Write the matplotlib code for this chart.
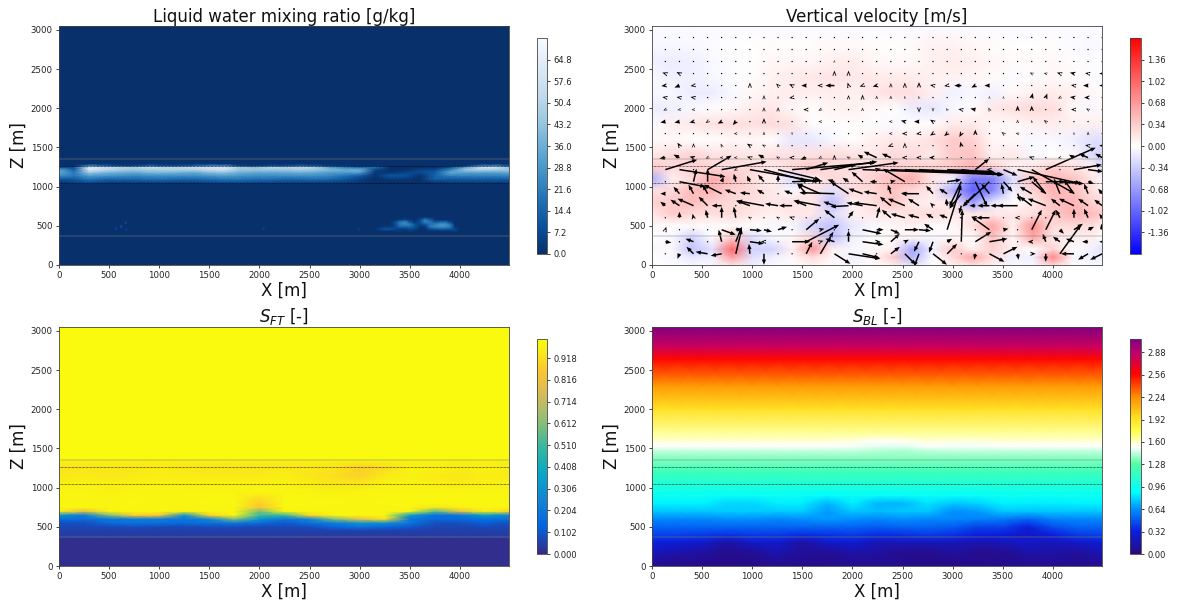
import numpy as np
import matplotlib
matplotlib.use("Agg")
import matplotlib.pyplot as plt
from matplotlib.colors import LinearSegmentedColormap, Normalize
from matplotlib.cm import ScalarMappable

# ---------- layer marker heights ----------
LINE_SOLID = [1350, 365]
LINE_DOTTED = [1260, 1045]

# ---------- liquid water: cloud layer ----------
QL_X = [0,150,300,450,600,750,900,1050,1200,1350,1500,1650,1800,1950,2100,2250,2400,2550,2700,2850,3000,3150,3300,3450,3600,3750,3900,4050,4200,4350,4490]
QL_Z = [1030,1060,1100,1140,1180,1215,1250,1270,1290]
QL = [
 [0]*31,
 [2,6,9,6,6,6,7,7,6,6,8,9,10,8,8,7,7,7,6,5,2,0,0,0,0,3,5,5,5,5,5],
 [12,12,20,16,16,16,18,18,16,16,18,20,20,18,18,16,16,18,16,12,5,0,3,3,0,14,12,13,13,13,13],
 [26,20,30,28,26,24,26,26,26,26,28,30,28,26,26,26,26,26,24,18,12,1,11,10,0,14,22,22,22,22,23],
 [34,20,44,38,36,34,38,38,36,34,40,42,36,34,34,34,36,34,30,30,30,3,2,6,8,12,34,32,32,32,34],
 [34,14,60,52,46,44,46,48,48,48,54,56,44,44,44,44,46,44,40,36,38,6,0,0,6,8,24,44,48,46,44],
 [8,8,64,56,52,48,57,52,52,57,60,62,47,42,52,50,54,50,32,22,16,18,0,0,0,0,8,32,57,60,42],
 [0,0,25,15,5,5,15,8,8,15,25,25,5,3,8,8,15,10,3,2,0,0,0,0,0,0,0,0,20,25,10],
 [0]*31,
]
# ---------- liquid water: low cumulus ----------
CU_X = [3150,3200,3250,3300,3350,3400,3450,3500,3550,3600,3650,3700,3750,3800,3850,3900,3950,4000]
CU_Z = [400,430,460,490,520,550,580,610]
CU = [
 [0]*18,
 [0,0,0,0,0,3,0,2,0,0,0,0,0,0,0,0,3,0],
 [0,5,10,10,7,3,3,7,5,0,0,7,10,12,12,10,7,0],
 [0,1,3,3,6,15,15,15,10,2,2,20,24,26,26,22,2,0],
 [0,0,0,0,5,20,24,22,10,5,10,18,22,28,28,20,0,0],
 [0,0,0,0,8,20,26,12,3,8,22,20,12,16,18,7,0,0],
 [0,0,0,0,0,2,6,2,0,6,22,14,2,0,0,0,0,0],
 [0]*18,
]
SPECK_X = [620,570,665,670,2040,2990]
SPECK_Z = [490,465,540,455,465,455]
SPECK_V = [8,5,6,4,5,4]
QL_TICKS = [0,7.2,14.4,21.6,28.8,36.0,43.2,50.4,57.6,64.8]

# ---------- vertical velocity ----------
W_X = [0,200,400,600,800,1000,1200,1400,1600,1800,2000,2200,2400,2600,2800,3000,3200,3400,3600,3800,4000,4200,4400,4490]
W_Z = [0,100,200,350,500,650,800,950,1100,1250,1400,1600,1800,2000,2200,2400,2600,2800,3050]
W = [
 [0,-.02,-.05,-.05,.2,-.1,-.05,.02,.1,.02,-.05,.02,.1,-.2,0,.1,.2,.1,-.05,-.05,.3,-.02,-.05,-.05],
 [0,-.05,-.15,-.1,.65,-.2,-.1,.05,.25,.05,-.1,.05,.35,-.5,0,.25,.6,.2,-.1,-.1,.8,-.05,-.1,-.1],
 [-.05,.05,-.4,-.2,1.0,-.3,-.3,.1,.7,.1,-.05,.05,.1,-.6,-.1,.35,.1,.3,.1,0,.3,0,-.1,-.2],
 [0,-.05,-.3,0,.35,-.2,-.05,.05,.25,-.4,-.1,0,.05,.05,-.05,.05,0,.4,.05,.6,.15,.1,.1,0],
 [.05,0,.05,0,.05,0,-.05,-.05,-.3,-.4,-.15,-.05,.05,.1,0,.05,.2,.6,.1,.75,.25,.25,.2,.1],
 [.15,.35,.25,.2,.25,.15,.1,.15,.15,-.25,.1,.15,.15,.2,.25,.15,.15,.15,.15,.2,.35,.5,.45,.35],
 [.3,.35,.45,.3,.25,.2,.15,.2,.15,-.45,.1,.2,.4,.15,.1,.15,-.65,-.15,0,.15,.4,.5,.3,.25],
 [.2,.25,.45,.5,.3,.25,.15,-.05,.2,-.2,.25,.25,.4,.25,.15,-.55,-1.05,-.8,-.1,.3,.5,.45,.2,.1],
 [-.55,.1,.25,.55,.4,.2,.1,-.25,.15,.25,.2,.3,.45,.55,.15,-.1,-.9,-.85,-.2,.4,.5,.4,.15,.05],
 [.35,.25,.3,.25,.2,.25,.15,.25,.35,.25,.2,.25,.3,.3,.3,.35,.5,.3,.1,.15,.3,.2,.1,-.25],
 [.15,.25,.3,.2,.2,.15,.2,.2,.2,.25,.2,.15,.25,.25,.15,.35,.4,.1,.15,-.05,0,.05,-.25,-.3],
 [.05,.05,0,0,.05,.05,0,-.15,-.15,-.05,0,.1,.15,.12,.2,.35,.3,.05,.05,-.05,-.05,-.1,-.2,-.2],
 [-.02,.1,.15,.2,.22,.2,.25,.18,.02,.02,.02,-.02,-.03,0,.02,.12,.14,.05,.05,.1,.12,.1,.1,.08],
 [-.12,-.1,-.05,0,.05,.12,.15,.05,.02,.08,.1,.05,0,-.12,-.15,-.05,.02,.15,.2,.25,.22,.05,-.05,.05],
 [-.05,-.05,-.12,-.12,-.05,.05,.1,.12,.1,.12,.1,.15,.22,.2,.1,-.08,-.05,-.08,.03,.1,.12,.1,.05,.05],
 [-.05,-.1,-.1,-.05,-.02,.02,.08,.12,.15,.18,.15,.14,.12,.12,.08,.08,.06,.03,-.02,-.02,.04,.02,-.02,-.02],
 [-.1,-.12,-.1,-.05,-.02,0,.06,.06,.06,.1,.12,.06,.03,.05,.1,.12,.1,.06,.03,.03,.05,.02,-.02,-.02],
 [-.05,-.05,-.05,-.02,0,0,.02,.02,.02,.03,.03,.02,0,.03,.08,.08,.05,.02,0,0,.02,-.02,-.04,-.04],
 [-.03]*24,
]
W_TICKS = [-1.36,-1.02,-0.68,-0.34,0.0,0.34,0.68,1.02,1.36]

# ---------- wind arrows (in pixels, top row first) ----------
ARROW_X = [133,274,414,555,695,836,977,1117,1258,1398,1539,1680,1820,1961,2101,2242,2383,2523,2664,2804,2945,3086,3226,3367,3507,3648,3789,3929,4070,4210,4351,4492]
ARROW_Z = [2903,2750,2597,2443,2290,2137,1983,1830,1677,1523,1370,1217,1063,910,757,603,450,297,143]
ARROW_U = [
 [0]*32,
 [0]*32,
 [0]*32,
 [-3,-3,-1,-1,0,0,0,0,0,0,0,0,0,0,0,0,0,0,0,0,0,0,0,0,0,-1,-2,-2,-3,-4,-3,-3],
 [-4,-5,-3,0,0,0,0,0,-2,-3,-5,-3,-9,-1,-3,-4,0,0,0,-3,-3,-7,-4,-5,0,0,-1,0,-1,-3,-5,-3],
 [-3,-3,-3,-1,-1,0,-1,0,0,-3,-.5,0,0,0,0,0,0,-.5,-.5,0,0,0,-1,0,0,0,1,1.5,-2,-4,-4,0],
 [-2,-2,-2,-1,-.5,0,0,0,0,0,-3,-2,0,0,0,-.5,-1,-1,0,0,-1,-3,-5,-1,0,0,0,-.5,-2,-3,-2,0],
 [-5,-5,-4,-2,-4,-3,-.5,0,-1,0,-1,-2,-1,0,-.5,0,-2,-4,-5,-3,-1,0,-.5,-.5,0,0,-.5,-2,-1,-1,-.5,0],
 [0,-1,-1,0,0,-2,0,0,0,0,0,0,-1,0,0,0,-2,-3,-3,-3,-3,-2,0,0,-2,-2,0,-1,-1,0,0,0],
 [0,-2,0,0,-1,0,-3,-2,0,0,0,0,0,-1,0,0,-3,0,0,0,0,-1,0,0,0,0,0,-.5,0,0,-3,-3],
 [-6,-6,-4,-2,-2,-2,-3,-6,-2,-3,-6,-2,0,-2,-5,-13,-9,-3,-3,-4,-1,0,-1,0,0,0,-3,0,-2,-5,-9,-7],
 [32,46,0,24,45,-2,68,42,42,83,22,57,22,50,141,4,107,99,75,0,47,41,14,-3,14,63,43,50,0,28,15,0],
 [1,26,3,0,2,-2,-3,-6,0,28,-5,-3,-7,-6,-11,-7,5,-22,-1,0,14,-12,12,-27,9,17,14,19,24,7,6,5],
 [-5,-6,-5,-5,-18,-11,-10,-7,0,-8,-9,-23,-35,-18,-14,-13,-3,-3,-18,-7,-8,-12,-11,-8,-2,3,-12,-13,-6,-10,-4,-4],
 [-5,-9,-16,-9,-10,-1,-14,-27,-13,-13,-12,-27,-11,-18,-16,-23,-11,-17,-11,-3,-1,-2,-6,-12,-13,-20,-12,-18,-9,-15,-10,-8],
 [0,0,-1,-2,0,-2,-2,-1,-2,-3,-1,-1,-10,5,-1,3,-9,-14,-11,-7,-8,-2,-4,-13,0,-3,0,-1,-4,0,-4,-3],
 [1,0,0,0,14,6,12,8,9,0,13,4,0,0,19,7,9,14,12,-9,14,0,0,-18,5,1,10,10,4,9,6,-1],
 [6,0,-8,0,-3,6,14,-3,0,18,33,3,-9,0,21,4,9,4,-5,-4,5,1,16,18,0,-1,-4,-3,-7,-8,-6,-3],
 [0,-2,-7,-12,-11,6,-1,0,0,0,6,13,16,32,17,0,9,11,-5,14,10,0,-1,15,14,1,4,0,21,-13,-10,-12],
]
ARROW_V = [
 [0]*32,
 [0]*32,
 [0,0,0,0,0,0,0,0,0,0,0,0,1.5,1,0,0,0,0,0,0,0,0,0,0,0,0,0,0,0,0,0,0],
 [1,1.5,.5,.5,0,0,0,0,0,0,0,0,3,3,0,0,0,0,0,0,0,0,0,0,0,.5,1,.5,1,1,.5,0],
 [-.5,-2,-.5,0,0,0,3,0,2,1.5,0,0,0,3,-1,-1,2.5,3,3.5,.5,-.5,0,-2,0,0,0,.5,0,-.5,.5,0,0],
 [.5,.5,.5,0,0,0,1.5,2.5,1.5,-.5,0,0,0,2.5,3,2,2,1.5,1.5,0,0,-.5,1,1.5,1.5,0,4.5,4,-1,.5,0,0],
 [-1,-.5,0,1,0,0,1,2.5,2.5,0,0,-1,0,0,2,0,1,1,-3,-2,1.5,.5,1,2,0,4,4,0,-.5,0,1,0],
 [-1,-1,-1,-1.5,-2,-3.5,-1,3.5,1,0,0,0,0,0,0,0,0,1,0,2,0,0,0,0,0,2,1.5,1.5,-.5,0,0,0],
 [0,0,0,0,0,0,1.5,2,-1,-1.5,-1,0,-1,0,0,0,0,0,-.5,-2,-2.5,-3.5,4,1,1.5,.5,0,.5,1,1.5,2,0],
 [0,3,2.5,0,2,0,2,1,2,0,0,0,0,0,0,0,-1,3,0,0,0,4,0,0,0,0,0,0,.5,1,.5,0],
 [-1,3,1,-1,0,0,1,3,1,0,-2,-1,3,1,3,6,4,0,0,0,0,0,0,0,0,0,1,0,-.5,3,4,4],
 [10,-7,0,14,8,-1,-12,-11,-10,7,7,8,5,7,-5,1,-4,-5,-3,0,-2,-5,11,0,-6,-14,-24,22,0,5,-2,0],
 [0,-5,13,13,5,8,6,7,7,1,3,3,2,4,10,0,1,13,0,0,2,-25,-25,-25,-10,5,-12,0,-2,-2,-2,0],
 [0,7,9,9,9,4,1,4,0,3,10,10,1,12,5,2,9,1,0,8,5,-15,-11,10,10,-8,7,17,15,14,10,5],
 [4,6,7,9,0,0,5,5,2,0,5,5,4,-1,3,3,9,7,7,3,7,-8,0,0,0,0,9,7,7,7,7,6],
 [1,6,4,8,11,11,1,0,1,1,0,1,8,7,1,11,8,4,3,4,3,0,1,0,0,0,0,1,8,9,9,4],
 [3,0,0,0,-5,1,-1,-2,3,0,11,1,0,0,-4,0,-4,0,-1,6,45,0,1,13,1,1,20,20,-4,6,3,6],
 [-1,0,3,0,12,15,-2,0,0,0,17,1,3,11,-3,0,8,2,-10,-11,3,32,10,3,0,0,0,8,5,3,0,0],
 [0,-5,7,2,-2,25,10,-11,0,0,12,22,-10,-5,-4,0,7,-11,-13,-11,10,0,-6,-8,7,-6,0,-8,29,0,-6,-6],
]

# ---------- free-troposphere scalar ----------
S_X = [0,250,500,750,1000,1250,1500,1750,2000,2250,2500,2750,3000,3250,3500,3750,4000,4250,4490]
SFT_Z = [0,350,380,450,500,550,600,650,700,750,800,950,1050,1150,1250,1340,1360,3050]
SFT = [
 [.01]*19,
 [.01]*19,
 [.04]*19,
 [.05]*19,
 [.07,.07,.07,.08,.07,.07,.08,.08,.07,.07,.08,.14,.18,.14,.1,.06,.06,.07,.07],
 [.08,.08,.16,.18,.17,.16,.18,.2,.16,.1,.18,.22,.3,.28,.2,.08,.08,.12,.08],
 [.18,.17,.2,.22,.22,.2,.25,.6,.3,.2,.25,.6,.8,.92,.2,.15,.16,.18,.18],
 [.3,.22,.6,.88,.85,.3,.9,.98,.5,.5,.9,.98,.98,.98,.35,.18,.2,.35,.25],
 [.95,.8,.97,.98,.98,.97,.98,.98,.6,.97,.98,.98,.98,.98,.97,.55,.8,.96,.9],
 [.98,.98,.98,.98,.98,.98,.98,.98,.85,.98,.98,.98,.98,.98,.98,.93,.97,.98,.98],
 [.99,.98,.98,.99,.98,.98,.99,.99,.88,.99,.99,.99,.98,.99,.99,.99,.99,.99,.99],
 [.98,.98,.97,.98,.98,.98,.98,.98,.98,.98,.98,.97,.98,.98,.98,.98,.98,.98,.98],
 [.96,.96,.96,.96,.97,.96,.96,.96,.96,.97,.95,.94,.94,.97,.97,.96,.95,.96,.97],
 [.94,.95,.94,.95,.96,.95,.95,.95,.95,.96,.94,.92,.89,.95,.97,.95,.94,.96,.95],
 [.93,.94,.94,.94,.95,.94,.93,.93,.93,.94,.94,.93,.88,.91,.97,.96,.95,.96,.95],
 [.96,.96,.96,.96,.96,.96,.96,.96,.96,.96,.96,.96,.96,.96,.96,.96,.96,.96,.96],
 [1.0]*19,
 [1.0]*19,
]
SFT_TICKS = [0.0,0.102,0.204,0.306,0.408,0.510,0.612,0.714,0.816,0.918]

# ---------- boundary-layer scalar ----------
SBL_Z = [0,100,200,300,400,500,600,700,800,900,1000,1200,1400,1480,1530,1590,1700,2000,2300,2640,2800,3050]
SBL = [
 [.06,.05,.03,.02,.03,.05,.04,.05,.05,.05,.05,.03,.03,.03,.05,.05,.05,.05,.06],
 [.14,.08,.08,.04,.05,.1,.06,.05,.09,.09,.05,.04,.07,.05,.05,.09,.1,.06,.12],
 [.22,.18,.14,.06,.1,.18,.09,.1,.16,.13,.08,.07,.12,.07,.08,.16,.14,.12,.2],
 [.32,.28,.26,.12,.24,.26,.13,.24,.28,.18,.2,.2,.2,.16,.2,.25,.2,.24,.28],
 [.42,.42,.4,.38,.4,.4,.36,.38,.4,.36,.38,.4,.38,.32,.3,.22,.32,.4,.42],
 [.52,.52,.52,.52,.52,.52,.52,.52,.52,.5,.52,.52,.5,.42,.42,.3,.46,.52,.52],
 [.62,.62,.62,.64,.64,.62,.64,.66,.64,.62,.64,.62,.62,.6,.58,.52,.6,.62,.62],
 [.76,.76,.76,.77,.77,.77,.77,.66,.76,.74,.76,.76,.64,.66,.76,.76,.76,.76,.76],
 [.86,.86,.86,.8,.8,.84,.84,.72,.84,.72,.72,.82,.76,.78,.86,.84,.84,.86,.86],
 [.93,.93,.93,.92,.92,.93,.92,.88,.92,.9,.9,.92,.9,.9,.93,.93,.93,.93,.93],
 [1.0]*19,
 [1.18]*19,
 [1.37]*19,
 [1.46,1.46,1.46,1.46,1.46,1.46,1.46,1.46,1.46,1.43,1.42,1.45,1.46,1.46,1.46,1.46,1.46,1.46,1.46],
 [1.53,1.53,1.53,1.53,1.53,1.53,1.53,1.53,1.52,1.49,1.49,1.53,1.52,1.52,1.53,1.53,1.53,1.53,1.53],
 [1.58,1.58,1.58,1.58,1.58,1.58,1.58,1.58,1.57,1.53,1.54,1.58,1.57,1.57,1.58,1.58,1.58,1.58,1.58],
 [1.66]*19,
 [1.92]*19,
 [2.2]*19,
 [2.56]*19,
 [2.82]*19,
 [3.06]*19,
]
SBL_TICKS = [0.0,0.32,0.64,0.96,1.28,1.60,1.92,2.24,2.56,2.88]

TITLES = ["Liquid water mixing ratio [g/kg]", "Vertical velocity [m/s]", r"$S_{FT}$ [-]", r"$S_{BL}$ [-]"]
X_TICKS = [0,500,1000,1500,2000,2500,3000,3500,4000]
Z_TICKS = [0,500,1000,1500,2000,2500,3000]

# ---------- colour maps ----------
PARULA = LinearSegmentedColormap.from_list("parula_like", [
    (0.0,"#352a87"),(0.125,"#0363e1"),(0.25,"#1485d4"),(0.375,"#06a7c6"),
    (0.5,"#38b99e"),(0.625,"#92bf73"),(0.75,"#d9ba56"),(0.86,"#fcc82e"),(0.95,"#f9ee14"),(1.0,"#f9fb0e")])
SBL_MAX = 3.07
SBL_CMAP = LinearSegmentedColormap.from_list("sbl", [
    (0.0/SBL_MAX,"#2a0a80"),(0.32/SBL_MAX,"#0a1ee0"),(0.64/SBL_MAX,"#0090ff"),
    (0.88/SBL_MAX,"#00ffff"),(1.28/SBL_MAX,"#50ffa0"),(1.53/SBL_MAX,"#ffffff"),
    (1.75/SBL_MAX,"#ffff50"),(1.95/SBL_MAX,"#ffdd20"),(2.24/SBL_MAX,"#ff9000"),
    (2.58/SBL_MAX,"#ff0000"),(2.88/SBL_MAX,"#c00070"),(1.0,"#800080")])

W_PX, H_PX = 1178, 607
fig = plt.figure(figsize=(W_PX/100, H_PX/100), dpi=100)

def axrect(l, t, r, b):
    return [l/W_PX, 1-b/H_PX, (r-l)/W_PX, (b-t)/H_PX]

AX_BOX = [(59,26,509,265),(652,26,1102,265),(59,327,509,566),(652,327,1102,566)]
CB_BOX = [(537,38,547,254),(1130,38,1141,254),(537,339,547,554),(1130,339,1141,554)]
NORMS = [Normalize(0,72),Normalize(-1.7,1.7),Normalize(0,1.007),Normalize(0,SBL_MAX)]
CMAPS = ["Blues_r","bwr",PARULA,SBL_CMAP]
TICKS = [QL_TICKS,W_TICKS,SFT_TICKS,SBL_TICKS]
TICKFMT = ["%.1f","%.2f","%.3f","%.2f"]

for i in range(4):
    ax = fig.add_axes(axrect(*AX_BOX[i]))
    if i == 0:
        ax.set_facecolor(plt.get_cmap("Blues_r")(0.0))
        ax.pcolormesh(QL_X, QL_Z, np.array(QL, float), cmap=CMAPS[0], norm=NORMS[0], shading="gouraud")
        ax.pcolormesh(CU_X, CU_Z, np.array(CU, float), cmap=CMAPS[0], norm=NORMS[0], shading="gouraud")
        ax.scatter(SPECK_X, SPECK_Z, c=SPECK_V, cmap=CMAPS[0], norm=NORMS[0], s=4, linewidths=0)
    elif i == 1:
        ax.pcolormesh(W_X, W_Z, np.array(W, float), cmap=CMAPS[1], norm=NORMS[1], shading="gouraud")
        XX, ZZ = np.meshgrid(ARROW_X, ARROW_Z)
        ax.quiver(XX, ZZ, np.array(ARROW_U, float), np.array(ARROW_V, float),
                  angles="uv", scale_units="dots", scale=1, units="dots", width=1.5,
                  headwidth=2.8, headlength=3.5, headaxislength=3.5, minshaft=0.6,
                  color="k", zorder=3)
    elif i == 2:
        ax.pcolormesh(S_X, SFT_Z, np.array(SFT, float), cmap=CMAPS[2], norm=NORMS[2], shading="gouraud")
    else:
        ax.pcolormesh(S_X, SBL_Z, np.array(SBL, float), cmap=CMAPS[3], norm=NORMS[3], shading="gouraud")

    for z in LINE_SOLID:
        ax.axhline(z, color="gray", alpha=0.3, lw=1.2, zorder=4)
    for z in LINE_DOTTED:
        ax.axhline(z, color="k", ls=(0, (1, 1)), lw=0.5, zorder=4)
    ax.set_xlim(0, 4490)
    ax.set_ylim(0, 3050)
    ax.set_xticks(X_TICKS)
    ax.set_yticks(Z_TICKS)
    ax.tick_params(labelsize=6.2, length=2.5, width=0.6, pad=2, colors="#222222")
    for s in ax.spines.values():
        s.set_linewidth(0.6)
        s.set_color("#444444")
    ax.set_xlabel("X [m]", fontsize=12, labelpad=1, color="#111111")
    ax.set_ylabel("Z [m]", fontsize=12, labelpad=2, color="#111111")
    ax.set_title(TITLES[i], fontsize=12, pad=3, color="#111111")

    cax = fig.add_axes(axrect(*CB_BOX[i]))
    cb = fig.colorbar(ScalarMappable(norm=NORMS[i], cmap=CMAPS[i]), cax=cax, ticks=TICKS[i], format=TICKFMT[i])
    cb.ax.tick_params(labelsize=6, length=2.5, width=0.6, pad=2, colors="#222222")
    cb.outline.set_linewidth(0.6)
    cb.outline.set_edgecolor("#444444")

fig.savefig("out.png", dpi=100)
